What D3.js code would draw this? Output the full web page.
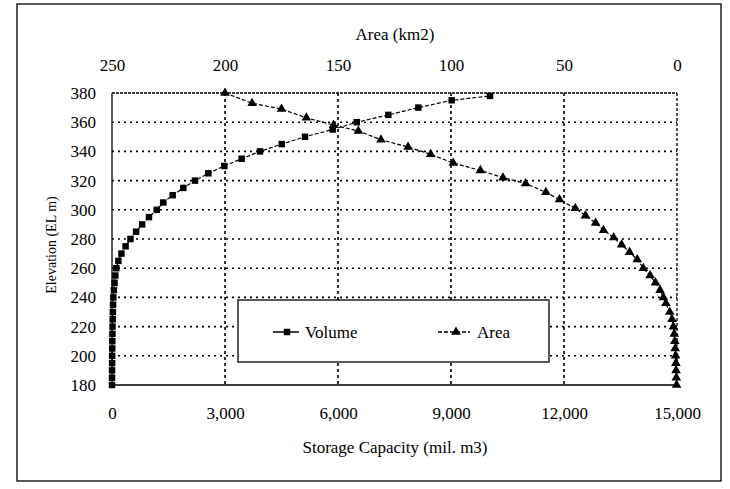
<!DOCTYPE html>
<html>
<head>
<meta charset="utf-8">
<script src="https://cdn.jsdelivr.net/npm/d3@7"></script>
<style>
  html, body { margin: 0; padding: 0; background: #fff; }
  svg { display: block; }
  svg text { font-family: "Liberation Serif", "Times New Roman", Times, "DejaVu Serif", serif !important; fill: #000; }
</style>
</head>
<body>
<div id="chart"></div>
<script>
// ---- Data ----
const volElev = [180,185,190,195,200,205,210,215,220,225,230,235,240,245,250,255,260,265,270,275,280,285,290,295,300,305,310,315,320,325,330,335,340,345,350,355,360,365,370,375,378];
const volume  = [0,1,2,3,4,6,8,11,14,18,23,28,35,50,68,90,115,170,250,360,490,640,800,982,1187,1362,1611,1894,2204,2557,2982,3443,3929,4506,5124,5860,6497,7336,8133,9019,10036];

const areaElev = [380,373,369,363,358,354,348,343,338,332,327,322,318,312,307,301,296,291,286,281,276,271,266,260,255,250,245,240,236,230,225,220,215,210,205,200,195,190,185,180];
const area     = [200,188,175,164,152,141,131,119,109,99,87,77,67,58,52,45,40.5,36,32.5,28,24.5,21,17.6,14.9,11.9,9.5,7.5,6,4.9,3.2,2.2,1.6,1.2,1.0,0.8,0.6,0.5,0.4,0.3,0.2];

const volTicks  = [0,3000,6000,9000,12000,15000];
const areaTicks = [250,200,150,100,50,0];
const elevTicks = [180,200,220,240,260,280,300,320,340,360,380];

const W = 730, H = 489;
const plot = {left: 112, right: 677, top: 93, bottom: 385};
const FONT = "'Liberation Serif', 'Times New Roman', Times, serif";

const svg = d3.select("#chart").append("svg").attr("width", W).attr("height", H)
  .style("font-family", FONT);

// outer frame
svg.append("rect").attr("x", 17).attr("y", 4).attr("width", 704).attr("height", 477)
  .attr("fill", "none").attr("stroke", "#000").attr("stroke-width", 1.3);

const x = d3.scaleLinear().domain([0, 15000]).range([plot.left, plot.right]);
const xa = d3.scaleLinear().domain([250, 0]).range([plot.left, plot.right]);
const y = d3.scaleLinear().domain([180, 380]).range([plot.bottom, plot.top]);

// gridlines
const grid = svg.append("g");
grid.selectAll("line.h").data(elevTicks.filter(d => d > 180 && d < 380)).join("line")
  .attr("x1", plot.left).attr("x2", plot.right)
  .attr("y1", d => y(d)).attr("y2", d => y(d))
  .attr("stroke", "#000").attr("stroke-width", 1.6).attr("stroke-dasharray", "2,4");
grid.selectAll("line.v").data(volTicks.filter(d => d > 0 && d < 15000)).join("line")
  .attr("y1", plot.top).attr("y2", plot.bottom)
  .attr("x1", d => x(d)).attr("x2", d => x(d))
  .attr("stroke", "#000").attr("stroke-width", 1.6).attr("stroke-dasharray", "3,3");

// plot border
svg.append("line").attr("x1", plot.left).attr("x2", plot.right).attr("y1", plot.top).attr("y2", plot.top)
  .attr("stroke", "#000").attr("stroke-width", 1.3).attr("stroke-dasharray", "3,1");
svg.append("line").attr("x1", plot.right).attr("x2", plot.right).attr("y1", plot.top).attr("y2", plot.bottom)
  .attr("stroke", "#000").attr("stroke-width", 1.3).attr("stroke-dasharray", "3,2");
svg.append("line").attr("x1", plot.left).attr("x2", plot.left).attr("y1", plot.top).attr("y2", plot.bottom)
  .attr("stroke", "#000").attr("stroke-width", 1.3);
svg.append("line").attr("x1", plot.left).attr("x2", plot.right).attr("y1", plot.bottom).attr("y2", plot.bottom)
  .attr("stroke", "#000").attr("stroke-width", 1.3);

// axes (labels only, no tick marks)
const fmt = d3.format(",");
const bottomAxis = svg.append("g").attr("transform", `translate(0,${plot.bottom})`)
  .call(d3.axisBottom(x).tickValues(volTicks).tickFormat(fmt).tickSize(0).tickPadding(22));
const topAxis = svg.append("g").attr("transform", `translate(0,${plot.top})`)
  .call(d3.axisTop(xa).tickValues(areaTicks).tickFormat(d3.format("d")).tickSize(0).tickPadding(22));
const leftAxis = svg.append("g").attr("transform", `translate(${plot.left},0)`)
  .call(d3.axisLeft(y).tickValues(elevTicks).tickFormat(d3.format("d")).tickSize(0).tickPadding(16));
[bottomAxis, topAxis, leftAxis].forEach(g => {
  g.attr("font-family", null).attr("font-size", null);
  g.select(".domain").remove();
  g.selectAll("text").style("font-family", FONT).style("font-size", "17px").attr("fill", "#000");
});

// axis titles
svg.append("text").attr("x", 395).attr("y", 40).attr("text-anchor", "middle")
  .style("font-size", "17px").text("Area (km2)");
svg.append("text").attr("x", 395).attr("y", 453).attr("text-anchor", "middle")
  .style("font-size", "17px").text("Storage Capacity (mil. m3)");
svg.append("text").attr("transform", "translate(56,245) rotate(-90)").attr("text-anchor", "middle")
  .style("font-size", "14px").text("Elevation (EL m)");

// series
const volData = volElev.map((e, i) => ({e, v: volume[i]}));
const areaData = areaElev.map((e, i) => ({e, a: area[i]}));

svg.append("path").datum(volData)
  .attr("d", d3.line().x(d => x(d.v)).y(d => y(d.e)))
  .attr("fill", "none").attr("stroke", "#000").attr("stroke-width", 1.2).attr("stroke-dasharray", "4,2");
svg.append("path").datum(areaData)
  .attr("d", d3.line().x(d => xa(d.a)).y(d => y(d.e)))
  .attr("fill", "none").attr("stroke", "#000").attr("stroke-width", 1.2).attr("stroke-dasharray", "4,2");

const sq = d3.symbol().type(d3.symbolSquare).size(42);
const tri = d3.symbol().type(d3.symbolTriangle).size(40);

svg.append("g").selectAll("path").data(volData).join("path")
  .attr("d", sq).attr("transform", d => `translate(${x(d.v)},${y(d.e)})`).attr("fill", "#000");
svg.append("g").selectAll("path").data(areaData).join("path")
  .attr("d", tri).attr("transform", d => `translate(${xa(d.a)},${y(d.e)})`).attr("fill", "#000");

// legend
const lg = svg.append("g");
lg.append("rect").attr("x", 238).attr("y", 300).attr("width", 311).attr("height", 62)
  .attr("fill", "#fff").attr("stroke", "#000").attr("stroke-width", 1.3);
lg.append("line").attr("x1", 273).attr("x2", 299).attr("y1", 332).attr("y2", 332)
  .attr("stroke", "#000").attr("stroke-width", 1.5);
lg.append("path").attr("d", sq).attr("transform", "translate(287,332)").attr("fill", "#000");
lg.append("text").attr("x", 305).attr("y", 338).style("font-size", "17px").text("Volume");
lg.append("line").attr("x1", 438).attr("x2", 470).attr("y1", 332).attr("y2", 332)
  .attr("stroke", "#000").attr("stroke-width", 1.3).attr("stroke-dasharray", "4,2");
lg.append("path").attr("d", tri).attr("transform", "translate(456,332)").attr("fill", "#000");
lg.append("text").attr("x", 477).attr("y", 338).style("font-size", "17px").text("Area");
</script>
</body>
</html>
